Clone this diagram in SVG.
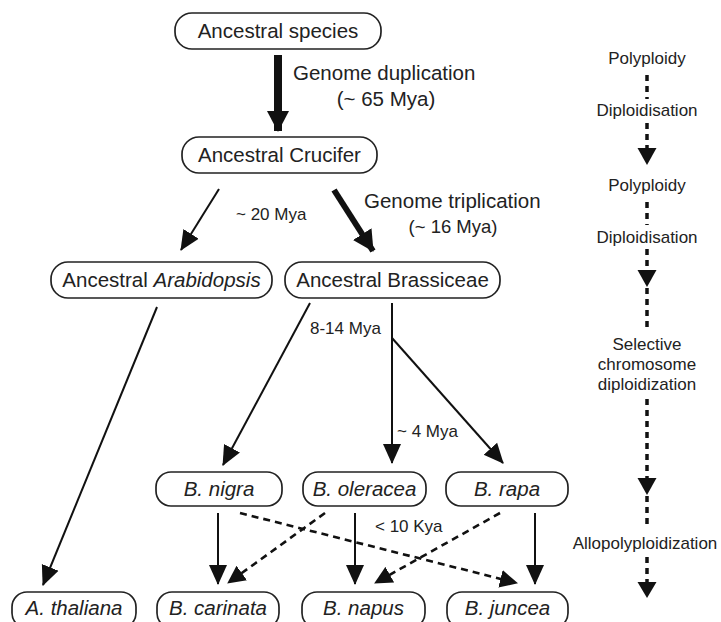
<svg xmlns="http://www.w3.org/2000/svg" width="721" height="622" viewBox="0 0 721 622">
<style>
  .box{fill:#fff;stroke:#222;stroke-width:1.7}
  .t{font-family:"Liberation Sans",Arial,Helvetica,sans-serif;font-size:20.5px;fill:#222;text-anchor:middle}
  .i{font-style:italic}
  .lbl{font-family:"Liberation Sans",Arial,Helvetica,sans-serif;font-size:20.5px;fill:#222}
  .sm{font-family:"Liberation Sans",Arial,Helvetica,sans-serif;font-size:17px;fill:#222}
  .side{font-family:"Liberation Sans",Arial,Helvetica,sans-serif;font-size:17px;fill:#222;text-anchor:middle}
  .c{fill:none;stroke:#111;stroke-width:2}
  .thick{stroke-width:6}
  .xthick{stroke-width:8}
  .dash{stroke-width:2.6;stroke-dasharray:7 5}
  .vdash{fill:none;stroke:#111;stroke-width:3.5;stroke-dasharray:6 5}
  .head{fill:#111}
</style>
<defs>
  <marker id="ah" viewBox="0 0 20 20" refX="19" refY="10" markerWidth="20" markerHeight="20" markerUnits="userSpaceOnUse" orient="auto">
    <path d="M0,1 L20,10 L0,19 z" fill="#111"/>
  </marker>
  <marker id="ahD" viewBox="0 0 18 18" refX="17" refY="9" markerWidth="18" markerHeight="18" markerUnits="userSpaceOnUse" orient="auto">
    <path d="M0,0 L18,9 L0,18 z" fill="#111"/>
  </marker>
  <marker id="ahL" viewBox="0 0 21 22" refX="20" refY="11" markerWidth="21" markerHeight="22" markerUnits="userSpaceOnUse" orient="auto">
    <path d="M0,0 L21,11 L0,22 z" fill="#111"/>
  </marker>
</defs>

<g id="connectors">
  <line class="c xthick" x1="278" y1="55" x2="278" y2="131" marker-end="url(#ahL)"/>
  <line class="c" x1="219" y1="189" x2="181" y2="250" marker-end="url(#ah)"/>
  <line class="c thick" x1="334" y1="190" x2="373" y2="251" marker-end="url(#ahL)"/>
  <line class="c" x1="157" y1="307" x2="43" y2="585" marker-end="url(#ah)"/>
  <line class="c" x1="310" y1="303" x2="223" y2="465" marker-end="url(#ah)"/>
  <line class="c" x1="392" y1="303" x2="392" y2="463" marker-end="url(#ah)"/>
  <line class="c" x1="392" y1="338" x2="503" y2="463" marker-end="url(#ah)"/>
  <line class="c" x1="218" y1="513" x2="218" y2="584" marker-end="url(#ah)"/>
  <line class="c" x1="355" y1="513" x2="355" y2="584" marker-end="url(#ah)"/>
  <line class="c" x1="535" y1="513" x2="535" y2="584" marker-end="url(#ah)"/>
  <line class="c dash" x1="240" y1="513" x2="517" y2="583" marker-end="url(#ahD)"/>
  <line class="c dash" x1="325" y1="513" x2="228" y2="583" marker-end="url(#ahD)"/>
  <line class="c dash" x1="500" y1="513" x2="375" y2="583" marker-end="url(#ahD)"/>
</g>

<g id="labels">
  <text class="lbl" x="293" y="80">Genome duplication</text>
  <text class="lbl" x="386" y="106" text-anchor="middle">(~ 65 Mya)</text>
  <text class="sm" x="236" y="220">~ 20 Mya</text>
  <text class="lbl" x="364" y="208">Genome triplication</text>
  <text class="lbl" x="453" y="233" text-anchor="middle" style="font-size:18.5px">(~ 16 Mya)</text>
  <text class="sm" x="310" y="334">8-14 Mya</text>
  <text class="sm" x="397" y="437">~ 4 Mya</text>
  <text class="sm" x="375" y="532">&lt; 10 Kya</text>
</g>

<g id="n-species"><rect class="box" x="175" y="13" width="206" height="36" rx="17"/><text class="t" x="278" y="38">Ancestral species</text></g>
<g id="n-crucifer"><rect class="box" x="182" y="137" width="195" height="36" rx="17"/><text class="t" x="279.5" y="162">Ancestral Crucifer</text></g>
<g id="n-arabidopsis"><rect class="box" x="51" y="262" width="221" height="36" rx="17"/><text class="t" x="161.5" y="287">Ancestral <tspan class="i">Arabidopsis</tspan></text></g>
<g id="n-brassiceae"><rect class="box" x="285" y="262" width="215" height="36" rx="17"/><text class="t" x="392.5" y="287">Ancestral Brassiceae</text></g>
<g id="n-nigra"><rect class="box" x="156" y="472" width="126" height="34" rx="15"/><text class="t i" x="219" y="496">B. nigra</text></g>
<g id="n-oleracea"><rect class="box" x="303" y="472" width="123" height="34" rx="15"/><text class="t i" x="364.5" y="496">B. oleracea</text></g>
<g id="n-rapa"><rect class="box" x="446" y="472" width="122" height="34" rx="15"/><text class="t i" x="507" y="496">B. rapa</text></g>
<g id="n-thaliana"><rect class="box" x="12" y="592" width="124" height="36" rx="15"/><text class="t i" x="74" y="615">A. thaliana</text></g>
<g id="n-carinata"><rect class="box" x="157" y="592" width="122" height="36" rx="15"/><text class="t i" x="218" y="615">B. carinata</text></g>
<g id="n-napus"><rect class="box" x="302" y="592" width="123" height="36" rx="15"/><text class="t i" x="363.5" y="615">B. napus</text></g>
<g id="n-juncea"><rect class="box" x="447" y="592" width="121" height="36" rx="15"/><text class="t i" x="507.5" y="615">B. juncea</text></g>

<g id="timeline">
  <text class="side" x="647" y="64">Polyploidy</text>
  <line class="vdash" x1="647" y1="75" x2="647" y2="99"/>
  <text class="side" x="647" y="116">Diploidisation</text>
  <line class="vdash" x1="647" y1="123" x2="647" y2="149"/>
  <polygon class="head" points="637.5,148 656.5,148 647,165"/>
  <text class="side" x="647" y="191">Polyploidy</text>
  <line class="vdash" x1="647" y1="202" x2="647" y2="225"/>
  <text class="side" x="647" y="243">Diploidisation</text>
  <line class="vdash" x1="647" y1="249" x2="647" y2="271"/>
  <polygon class="head" points="637.5,270 656.5,270 647,287"/>
  <line class="vdash" x1="647" y1="288" x2="647" y2="332"/>
  <text class="side" x="647" y="350">Selective</text>
  <text class="side" x="647" y="370">chromosome</text>
  <text class="side" x="647" y="390">diploidization</text>
  <line class="vdash" x1="647" y1="399" x2="647" y2="479"/>
  <polygon class="head" points="637.5,478 656.5,478 647,495"/>
  <line class="vdash" x1="647" y1="496" x2="647" y2="527"/>
  <text class="side" x="645" y="549">Allopolyploidization</text>
  <line class="vdash" x1="647" y1="557" x2="647" y2="583"/>
  <polygon class="head" points="637.5,582 656.5,582 647,598"/>
</g>
</svg>
